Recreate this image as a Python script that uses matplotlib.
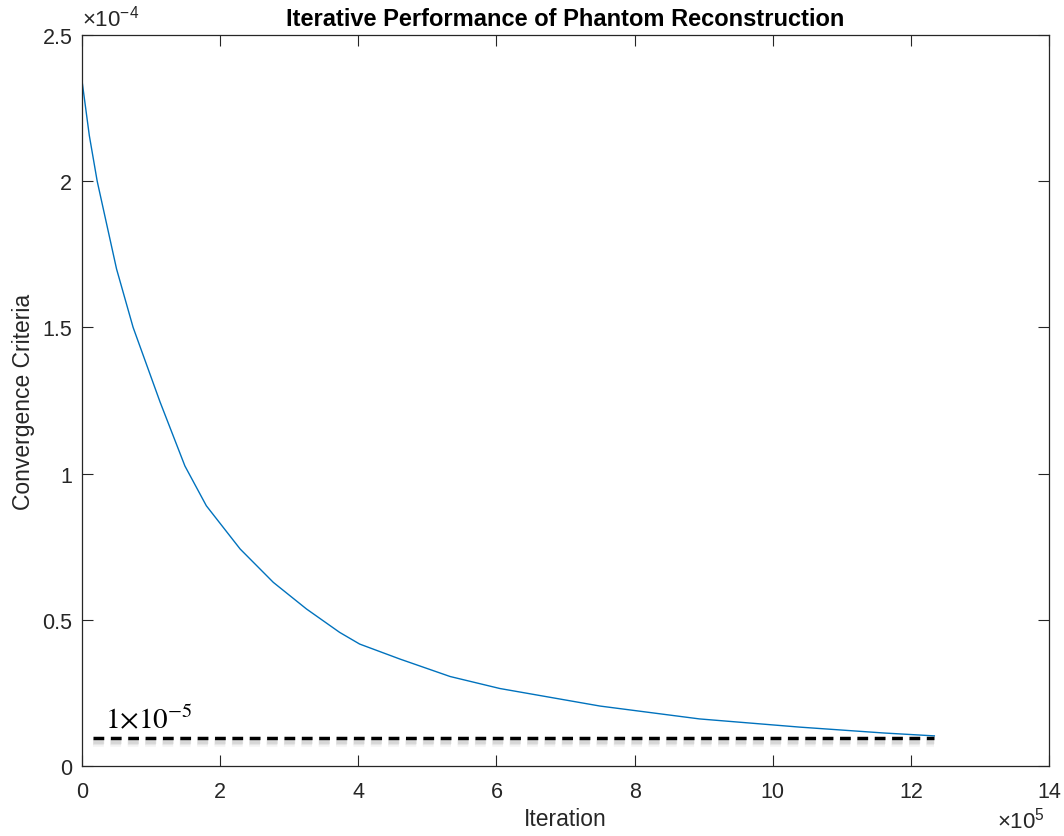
import numpy as np
import matplotlib.pyplot as plt
import matplotlib.patheffects as pe

# iteration (x 1e5) and convergence criteria (x 1e-4)
iteration = [0, 0.106, 0.22, 0.50, 0.74, 1.13, 1.49, 1.80, 2.29, 2.77, 3.25,
             3.73, 4.02, 4.60, 5.33, 6.05, 7.50, 8.94, 10.39, 11.6, 12.34]
criteria = [2.344, 2.156, 2.0, 1.70, 1.5, 1.245, 1.026, 0.890, 0.742, 0.628, 0.537,
            0.457, 0.417, 0.366, 0.306, 0.265, 0.205, 0.161, 0.133, 0.113, 0.103]
threshold = 0.096
threshold_x = [0.16, 12.34]

plt.rcParams['font.family'] = ['Liberation Sans', 'DejaVu Sans']
plt.rcParams['mathtext.fontset'] = 'custom'
plt.rcParams['mathtext.rm'] = 'Liberation Sans'
plt.rcParams['mathtext.it'] = 'Liberation Sans:italic'
plt.rcParams['mathtext.bf'] = 'Liberation Sans:bold'

grey = (0.15, 0.15, 0.15)

fig = plt.figure(figsize=(10.64, 8.37), dpi=100)
ax = fig.add_axes([82/1064, 1-767/837, (1049-82)/1064, (767-36)/837])

ax.plot(iteration, criteria, color=(0, 0.447, 0.741), lw=1.0)

# dashed threshold with a soft shadow underneath
shadow = [pe.SimpleLineShadow(offset=(0, -3), shadow_color='grey', alpha=0.08, rho=1, linewidth=7),
          pe.SimpleLineShadow(offset=(0, -3), shadow_color='grey', alpha=0.12, rho=1, linewidth=4.5),
          pe.SimpleLineShadow(offset=(0, -3), shadow_color='grey', alpha=0.15, rho=1, linewidth=2),
          pe.Normal()]
ax.plot(threshold_x, [threshold, threshold], color='black', lw=2.5, ls=(0, (3.1, 1.9)),
        path_effects=shadow)
ax.text(0.33, 0.133, r'$1{\times}10^{-5}$', fontsize=21, color='black', math_fontfamily='stix')

ax.set_xlim(0, 14)
ax.set_ylim(0, 2.5)
ax.set_xticks(np.arange(0, 15, 2))
ax.set_yticks([0, 0.5, 1, 1.5, 2, 2.5])
ax.set_xticklabels(['0', '2', '4', '6', '8', '10', '12', '14'])
ax.set_yticklabels(['0', '0.5', '1', '1.5', '2', '2.5'])
ax.tick_params(direction='in', length=8, width=0.8, colors=grey,
               labelsize=15.5, top=True, right=True)
ax.tick_params(axis='x', pad=11)
ax.tick_params(axis='y', pad=7)
for s in ax.spines.values():
    s.set_color(grey)
    s.set_linewidth(0.9)

ax.set_title('Iterative Performance of Phantom Reconstruction', fontsize=17,
             fontweight='bold', pad=7)
ax.set_xlabel('Iteration', fontsize=16.5, color=grey)
ax.xaxis.set_label_coords(0.5, (767-826.5)/731)
ax.xaxis.label.set_va('baseline')
ax.set_ylabel('Convergence Criteria', fontsize=16.5, color=grey, labelpad=5)

fig.text(82/1064, 1-27/837, '×10$^{-4}$', fontsize=16, color=grey,
         va='baseline', ha='left')
fig.text(997/1064, 1-829/837, '×10$^{5}$', fontsize=16, color=grey,
         va='baseline', ha='left')

fig.savefig('out.png', dpi=100)
